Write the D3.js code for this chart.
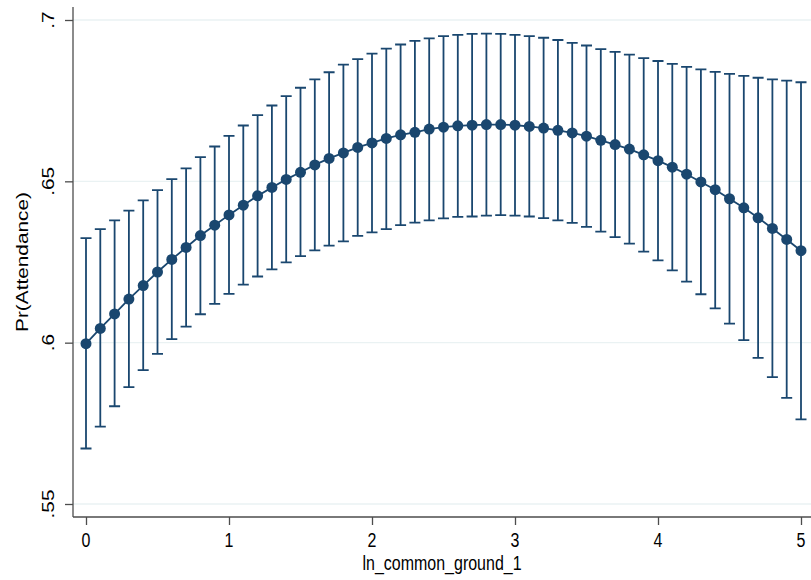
<!DOCTYPE html>
<html>
<head>
<meta charset="utf-8">
<script src="https://cdn.jsdelivr.net/npm/d3@7"></script>
<style>
  body { margin: 0; background: #fff; }
  svg { display: block; font-family: "Liberation Sans", Arial, Helvetica, sans-serif; }
</style>
</head>
<body>
<svg id="chart"></svg>
<script>
// ln_common_ground_1 values
const xValues = [0, 0.1, 0.2, 0.3, 0.4, 0.5, 0.6, 0.7, 0.8, 0.9,
  1, 1.1, 1.2, 1.3, 1.4, 1.5, 1.6, 1.7, 1.8, 1.9,
  2, 2.1, 2.2, 2.3, 2.4, 2.5, 2.6, 2.7, 2.8, 2.9,
  3, 3.1, 3.2, 3.3, 3.4, 3.5, 3.6, 3.7, 3.8, 3.9,
  4, 4.1, 4.2, 4.3, 4.4, 4.5, 4.6, 4.7, 4.8, 4.9, 5];

// predicted Pr(Attendance)
const margins = [.5997, .6044, .6089, .6135, .6177, .6219, .6258, .6295, .6332, .6364,
  .6396, .6426, .6455, .6481, .6506, .6528, .6551, .6571, .6588, .6605,
  .6619, .6633, .6644, .6652, .6662, .6668, .6672, .6674, .6676, .6676,
  .6674, .6670, .6665, .6658, .6650, .6640, .6627, .6614, .6600, .6582,
  .6564, .6544, .6522, .6498, .6474, .6446, .6418, .6387, .6354, .6320, .6285];

// 95% CI
const ciUpper = [.6324, .6352, .6379, .6409, .6441, .6473, .6507, .6540, .6575, .6608,
  .6641, .6673, .6705, .6735, .6764, .6790, .6816, .6838, .6862, .6879,
  .6896, .6911, .6924, .6935, .6943, .6950, .6954, .6957, .6958, .6957,
  .6954, .6950, .6945, .6938, .6929, .6921, .6910, .6901, .6893, .6882,
  .6873, .6864, .6855, .6847, .6839, .6833, .6827, .6821, .6816, .6812, .6807];

const ciLower = [.5672, .5740, .5803, .5862, .5915, .5965, .6011, .6050, .6088, .6120,
  .6151, .6180, .6205, .6227, .6249, .6268, .6286, .6301, .6314, .6331,
  .6342, .6352, .6364, .6372, .6379, .6385, .6390, .6391, .6394, .6395,
  .6394, .6391, .6386, .6379, .6371, .6359, .6344, .6327, .6307, .6282,
  .6255, .6224, .6189, .6150, .6106, .6059, .6008, .5953, .5893, .5829, .5762];

const xTicks = [0, 1, 2, 3, 4, 5];
const xTickLabels = ['0', '1', '2', '3', '4', '5'];
const yTicks = [.55, .6, .65, .7];
const yTickLabels = ['.55', '.6', '.65', '.7'];

const width = 811, height = 580;
const color = '#1a476f';
const axisColor = '#4d4d4d';
// the graph is a bit taller than the original export, text gets stretched too
const stretch = 1.3;

const svg = d3.select('#chart')
  .attr('width', width)
  .attr('height', height);

svg.append('rect')
  .attr('width', width)
  .attr('height', height)
  .attr('fill', '#fff');

const plot = { left: 73, right: 811, top: 7, bottom: 517 };

const x = d3.scaleLinear().domain([0, 5]).range([86, 801]);
const y = d3.scaleLinear().domain([.55, .7]).range([504, 20]);

const data = xValues.map((v, i) => ({
  x: v, m: margins[i], lo: ciLower[i], hi: ciUpper[i]
}));

// gridlines
svg.append('g')
  .selectAll('line')
  .data(yTicks)
  .enter().append('line')
  .attr('x1', plot.left)
  .attr('x2', plot.right)
  .attr('y1', d => y(d))
  .attr('y2', d => y(d))
  .attr('stroke', '#eaf2f3')
  .attr('stroke-width', 1.3);

// y axis
const yAxis = svg.append('g')
  .attr('transform', `translate(${plot.left},0)`)
  .call(d3.axisLeft(y).tickValues(yTicks).tickSize(8).tickFormat(''));
yAxis.select('.domain')
  .attr('d', `M0,${plot.top}V${plot.bottom}`)
  .attr('stroke', axisColor)
  .attr('stroke-width', 1.3);
yAxis.selectAll('.tick line').attr('stroke', axisColor).attr('stroke-width', 1.3);

svg.append('g')
  .selectAll('text')
  .data(yTicks)
  .enter().append('text')
  .attr('transform', d => `translate(54,${y(d)}) scale(1,${stretch}) rotate(-90)`)
  .attr('text-anchor', 'middle')
  .attr('font-size', 16)
  .attr('fill', '#000')
  .text((d, i) => yTickLabels[i]);

// x axis
const xAxis = svg.append('g')
  .attr('transform', `translate(0,${plot.bottom})`)
  .call(d3.axisBottom(x).tickValues(xTicks).tickSize(8).tickFormat(''));
xAxis.select('.domain')
  .attr('d', `M${plot.left},0H${plot.right}`)
  .attr('stroke', axisColor)
  .attr('stroke-width', 1.3);
xAxis.selectAll('.tick line').attr('stroke', axisColor).attr('stroke-width', 1.3);

svg.append('g')
  .selectAll('text')
  .data(xTicks)
  .enter().append('text')
  .attr('transform', d => `translate(${x(d)},547) scale(1,${stretch})`)
  .attr('text-anchor', 'middle')
  .attr('font-size', 16)
  .attr('fill', '#000')
  .text((d, i) => xTickLabels[i]);

// axis titles
svg.append('text')
  .attr('transform', `translate(${(plot.left + plot.right) / 2},570) scale(1,${stretch})`)
  .attr('text-anchor', 'middle')
  .attr('font-size', 16)
  .text('ln_common_ground_1');

svg.append('text')
  .attr('transform', `translate(28,${(plot.top + plot.bottom) / 2}) scale(1,${stretch}) rotate(-90)`)
  .attr('text-anchor', 'middle')
  .attr('font-size', 16)
  .text('Pr(Attendance)');

// error bars
const bars = svg.append('g')
  .attr('stroke', color)
  .attr('stroke-width', 1.8)
  .attr('fill', 'none');

bars.selectAll('.ci')
  .data(data)
  .enter().append('path')
  .attr('class', 'ci')
  .attr('d', d => {
    const cx = x(d.x);
    return `M${cx - 5.5},${y(d.hi)}H${cx + 5.5}M${cx},${y(d.hi)}V${y(d.lo)}M${cx - 5.5},${y(d.lo)}H${cx + 5.5}`;
  });

// connecting line
const line = d3.line()
  .x(d => x(d.x))
  .y(d => y(d.m));

svg.append('path')
  .datum(data)
  .attr('d', line)
  .attr('fill', 'none')
  .attr('stroke', color)
  .attr('stroke-width', 1.8);

// markers
svg.append('g')
  .selectAll('circle')
  .data(data)
  .enter().append('circle')
  .attr('cx', d => x(d.x))
  .attr('cy', d => y(d.m))
  .attr('r', 5.5)
  .attr('fill', color);
</script>
</body>
</html>
